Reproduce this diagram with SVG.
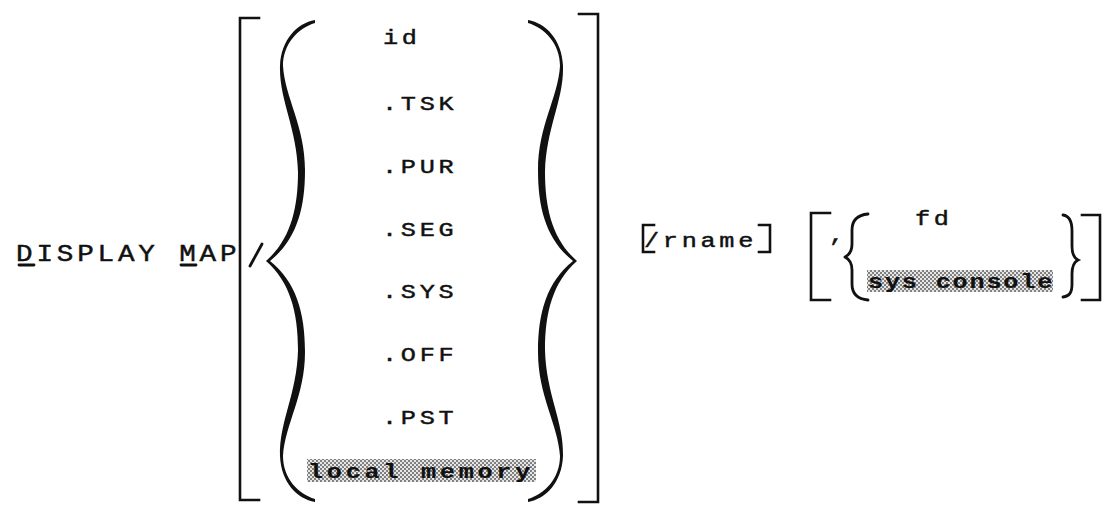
<svg xmlns="http://www.w3.org/2000/svg" width="1110" height="507" viewBox="0 0 1110 507">
  <defs>
    <style>
      .tt { font-family: "Liberation Mono", "DejaVu Sans Mono", monospace; fill: #111; stroke: #111; stroke-width: 0.45; }
      .item { font-size: 21px; letter-spacing: 3.1px; }
      .head { font-size: 23px; letter-spacing: 3.2px; }
      .shaded { font-weight: bold; stroke-width: 0.2; }
      .rule { fill: none; stroke: #111; stroke-width: 2.6; stroke-linecap: square; }
      .thin { fill: none; stroke: #111; stroke-width: 2.8; stroke-linecap: round; }
      .ink { fill: #111; }
    </style>
    <!-- halftone screen used behind highlighted options -->
    <pattern id="screen" width="4" height="4" patternUnits="userSpaceOnUse">
      <rect width="4" height="4" fill="#e6e6e6"/>
      <rect width="2" height="2" fill="#808080"/>
      <rect x="2" y="2" width="2" height="2" fill="#808080"/>
    </pattern>
    <!-- upper half of the large brace, point at y=261 -->
    <path id="bigBraceHalf" d="M315,20 C297,23 281,40 280,66 C279,100 297,128 298,172 C298,210 290,240 266,261 L270,261 C296,240 305,210 305,170 C305,126 285,98 283,66 C283,44 298,28 315,23 Z"/>
  </defs>
  <rect width="1110" height="507" fill="#fff"/>

  <!-- command name (typewriter face, widened) -->
  <g id="command">
    <text class="tt head" transform="translate(16,261) scale(1.2,1)">DISPLAY MAP</text>
    <line class="thin" x1="19" y1="265" x2="34" y2="265"/>
    <line class="thin" x1="181" y1="265" x2="196" y2="265"/>
  </g>

  <!-- optional map-type selector -->
  <g id="map-type">
    <path class="rule" d="M259,18 H240 V500 H259"/>
    <path class="rule" d="M579,14 H598 V502 H579"/>
    <line class="thin" x1="250" y1="266" x2="262" y2="244"/>
    <g class="ink">
      <use href="#bigBraceHalf"/>
      <use href="#bigBraceHalf" transform="matrix(1,0,0,-1,0,522)"/>
      <use href="#bigBraceHalf" transform="matrix(-1,0,0,1,843,0)"/>
      <use href="#bigBraceHalf" transform="matrix(-1,0,0,-1,843,522)"/>
    </g>
    <text class="tt item" transform="translate(383,44) scale(1.2,1)">id</text>
    <text class="tt item" transform="translate(382,110) scale(1.2,1)">.TSK</text>
    <text class="tt item" transform="translate(382,173) scale(1.2,1)">.PUR</text>
    <text class="tt item" transform="translate(382,236) scale(1.2,1)">.SEG</text>
    <text class="tt item" transform="translate(382,298) scale(1.2,1)">.SYS</text>
    <text class="tt item" transform="translate(382,361) scale(1.2,1)">.OFF</text>
    <text class="tt item" transform="translate(382,424) scale(1.2,1)">.PST</text>
    <rect x="307" y="459" width="229" height="23" fill="url(#screen)"/>
    <text class="tt item shaded" transform="translate(308,478) scale(1.2,1)">local memory</text>
  </g>

  <!-- optional region name -->
  <g id="rname">
    <path class="rule" d="M654,225 H643 V252 H654"/>
    <path class="rule" d="M759,225 H770 V252 H759"/>
    <text class="tt item" transform="translate(644,247) scale(1.2,1)">/rname</text>
  </g>

  <!-- optional output device -->
  <g id="device">
    <path class="rule" d="M830,213 H811 V300 H830"/>
    <path class="rule" d="M1082,215 H1100 V300 H1082"/>
    <text class="tt item" transform="translate(829,241) scale(1.2,1)">,</text>
    <path class="thin" d="M868,214 C857,215 852,221 852,230 L852,244 C852,251 849,255 845,257 M868,300 C857,299 852,293 852,284 L852,270 C852,263 849,259 845,257"/>
    <path class="thin" d="M1063,215 C1070,216 1072,222 1072,231 L1072,246 C1072,253 1074,258 1078,260 C1074,262 1072,267 1072,274 L1072,284 C1072,292 1070,296 1063,297"/>
    <text class="tt item" transform="translate(915,225) scale(1.2,1)">fd</text>
    <rect x="867" y="270" width="186" height="22" fill="url(#screen)"/>
    <text class="tt item shaded" transform="translate(868,288) scale(1.2,1)" style="letter-spacing:1.5px">sys console</text>
  </g>
</svg>
